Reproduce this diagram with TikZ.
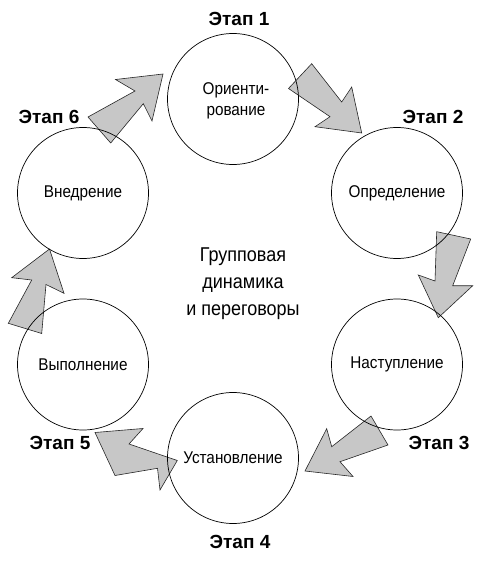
\documentclass[tikz,border=0pt]{standalone}
\usepackage{fontspec}
\setmainfont{Liberation Sans}[FakeStretch=0.9]
\newfontfamily\stagefont{Liberation Sans}
\begin{document}
\begin{tikzpicture}[x=1pt,y=-1pt,
  stage/.style={circle, draw, line width=0.7pt, minimum size=131pt, inner sep=0pt,
    font=\fontsize{17}{21}\selectfont, align=center},
  steplabel/.style={font=\stagefont\bfseries\fontsize{19}{22}\selectfont},
  centertext/.style={font=\fontsize{20}{27}\selectfont, align=center},
  blockarrow/.style={draw=black!85, fill=black!22, line width=0.6pt, line join=miter}]
\useasboundingbox (0,0) rectangle (488,561);

% block arrows (drawn first, circles on top)
\draw[blockarrow] (88,117) -- (135,91) -- (115.5,79.5) -- (163,74) -- (152,121) -- (143.3,103.7) -- (110.7,143) -- cycle;
\draw[blockarrow] (288.5,88.5) -- (311.7,63.7) -- (341.7,102) -- (351.7,87) -- (361.7,133) -- (315,126.7) -- (330,116.7) -- cycle;
\draw[blockarrow] (436.7,231.7) -- (470.7,239) -- (452.7,285.7) -- (472.7,285.7) -- (438.3,317.7) -- (418.3,275) -- (435,281) -- cycle;
\draw[blockarrow] (371,416) -- (388,445) -- (340,461.7) -- (353,476.5) -- (305,471) -- (326.7,428.7) -- (331.7,446.7) -- cycle;
\draw[blockarrow] (95,432.5) -- (143,428.5) -- (129,444) -- (177.3,460.5) -- (160,490) -- (157.5,468.3) -- (115,475.5) -- cycle;
\draw[blockarrow] (49.5,249) -- (64,293.3) -- (46,284.5) -- (41.7,333.5) -- (8.3,323.3) -- (31.7,280) -- (11.7,277.7) -- cycle;

% stages
\node[stage] (s1) at (233,99) {};
\node[font=\fontsize{17}{21}\selectfont, align=center] (t1) at (236,101) {Ориенти-\\рование};
\node[stage] (s2) at (397,193) {Определение};
\node[stage] (s3) at (397,364.5) {Наступление};
\node[stage] (s4) at (233,458) {Установление};
\node[stage] (s5) at (83,364.5) {Выполнение};
\node[stage] (s6) at (83,193) {Внедрение};

% stage labels
\node[steplabel] (l1) at (239,19) {Этап 1};
\node[steplabel] (l2) at (433,117) {Этап 2};
\node[steplabel] (l3) at (439,443) {Этап 3};
\node[steplabel] (l4) at (240,541.5) {Этап 4};
\node[steplabel] (l5) at (60,443) {Этап 5};
\node[steplabel] (l6) at (49,117) {Этап 6};

% centre
\node[centertext] (c) at (243,284) {Групповая\\динамика\\и переговоры};
\end{tikzpicture}
\end{document}
